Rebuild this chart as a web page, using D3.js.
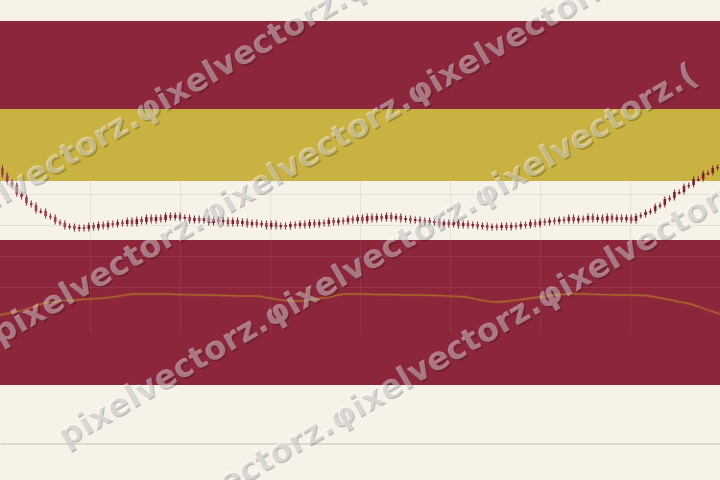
<!DOCTYPE html>
<html><head><meta charset="utf-8">
<script src="https://cdn.jsdelivr.net/npm/d3@7"></script>
<style>html,body{margin:0;padding:0;background:#f6f2e8;overflow:hidden}svg{display:block}</style>
</head><body>
<script>
// ---- data ----
const closes = [105,98,95,86,83,77,75,69,69,64,63,58,57,53,54,51,53,51,55,52,
  56,53,57,55,58,56,60,56,61,58,63,59,63,60,65,62,65,61,63,59,
  62,59,62,57,61,58,60,56,60,56,59,55,58,55,57,53,57,53,55,53,
  56,54,57,54,58,55,58,56,60,57,60,58,62,59,63,59,64,60,64,61,
  65,61,64,60,62,59,61,57,60,57,59,55,58,55,58,54,57,54,56,53,
  55,52,54,52,55,52,55,53,56,54,58,55,59,57,60,58,61,59,63,59,
  62,60,64,60,63,59,64,60,63,60,63,59,64,65,68,69,74,75,81,82,
  88,88,94,95,101,101,107,107,112,113];
const firstOpen = 112;
const indicator = [95,98,102,107,109,110,111,112,114,116,116,116,115.5,115,115,114.5,114,
  114,112,109.5,109,111,113,116,116,115.5,115.5,115,115,114.5,114,113,110,108,109,111,
  113,115,116,116,115.5,115,115,114.5,112,109,106,101,96];
const gridX = [1,2,3,4,5,6,7];
const gridY = [86,55,24,-7];
const zoneNames = ["upper","gold","lower"];
const zoneHigh = [259,171,40];
const zoneLow = [171,99,-105];
const watermark = "pixelvectorz.φixelvectorz.φixelvectorz.(";

// ---- layout ----
const W = 720, H = 480;
const C = {cream:"#f6f2e8", crimson:"#8b263b", gold:"#c9b242", line:"#ad6a30"};
const zoneColor = {upper:C.crimson, gold:C.gold, lower:C.crimson};

const svg = d3.select("body").append("svg").attr("width", W).attr("height", H);
const x = d3.scaleLinear().domain([0, 8]).range([0, W]);
const y = d3.scaleLinear().domain([-200, 280]).range([H, 0]);
const yL = d3.scaleLinear().domain([80, 130]).range([330, 280]);
const xb = d3.scaleBand().domain(d3.range(closes.length)).range([0, W]);
const xp = d3.scalePoint().domain(d3.range(indicator.length)).range([0, W]);

svg.append("rect").attr("width", W).attr("height", H).attr("fill", C.cream);

// zones
svg.selectAll("rect.zone").data(zoneNames).join("rect").attr("class","zone")
  .attr("x", 0).attr("width", W)
  .attr("y", (d,i) => y(zoneHigh[i]))
  .attr("height", (d,i) => y(zoneLow[i]) - y(zoneHigh[i]))
  .attr("fill", d => zoneColor[d]);

// grid
const gTop = y(99), gMid = y(40), gBot = y(-53);
const grid = svg.append("g");
gridX.forEach(t => {
  grid.append("line").attr("x1", x(t)+0.5).attr("x2", x(t)+0.5).attr("y1", gTop).attr("y2", gMid)
    .attr("stroke", "#e7e1d4").attr("stroke-width", 1);
  grid.append("line").attr("x1", x(t)+0.5).attr("x2", x(t)+0.5).attr("y1", gMid).attr("y2", gBot)
    .attr("stroke", "#ffffff").attr("stroke-opacity", 0.07).attr("stroke-width", 1);
});
gridY.forEach(v => {
  const inLower = v < 40;
  grid.append("line").attr("x1", 0).attr("x2", W).attr("y1", Math.round(y(v))+0.5).attr("y2", Math.round(y(v))+0.5)
    .attr("stroke", inLower ? "#ffffff" : "#e7e1d4")
    .attr("stroke-opacity", inLower ? 0.08 : 1).attr("stroke-width", 1);
});

// candles
const opens = closes.map((c,i) => i ? closes[i-1] : firstOpen);
const bw = 2.6;
const candles = svg.append("g").selectAll("g").data(closes).join("g");
candles.append("line")
  .attr("x1", (d,i) => xb(i) + xb.bandwidth()/2).attr("x2", (d,i) => xb(i) + xb.bandwidth()/2)
  .attr("y1", (d,i) => y(Math.max(d, opens[i])) - 2.5)
  .attr("y2", (d,i) => y(Math.min(d, opens[i])) + 2.5)
  .attr("stroke", "#7e1f33").attr("stroke-width", 1);
candles.append("rect")
  .attr("x", (d,i) => xb(i) + xb.bandwidth()/2 - bw/2).attr("width", bw)
  .attr("y", (d,i) => y(Math.max(d, opens[i])))
  .attr("height", (d,i) => Math.max(1.5, Math.abs(y(d) - y(opens[i]))))
  .attr("fill", (d,i) => d >= opens[i] ? "#7e1f33" : "#9c4054");

// indicator line
const ln = d3.line().x((d,i) => xp(i)).y(d => yL(d)).curve(d3.curveMonotoneX);
svg.append("path").datum(indicator).attr("d", ln).attr("fill","none")
  .attr("stroke", C.line).attr("stroke-opacity", 0.2).attr("stroke-width", 3.5);
svg.append("path").datum(indicator).attr("d", ln).attr("fill","none")
  .attr("stroke", C.line).attr("stroke-opacity", 0.9).attr("stroke-width", 1.3);

// bottom axis
const ax = svg.append("g").attr("transform", "translate(0,443.5)")
  .call(d3.axisBottom(x).ticks(0).tickSizeOuter(0));
ax.select(".domain").attr("stroke", "#c5bfb3");
ax.selectAll("text").remove();

// watermark
const rows = [[-64, 243], [0, 345], [65, 447], [130, 549]];
const wm = svg.append("g").attr("font-family", "DejaVu Sans").attr("font-weight", "bold")
  .attr("font-size", 32).attr("letter-spacing", 0.4);
rows.forEach(([ax0, ay0]) => {
  wm.append("text").attr("transform", `translate(${ax0+1.5},${ay0+1.5}) rotate(-30)`)
    .attr("fill", "#000").attr("fill-opacity", 0.22).text(watermark);
  wm.append("text").attr("transform", `translate(${ax0},${ay0}) rotate(-30)`)
    .attr("fill", "#fff").attr("fill-opacity", 0.42).text(watermark);
});
</script>
</body></html>
